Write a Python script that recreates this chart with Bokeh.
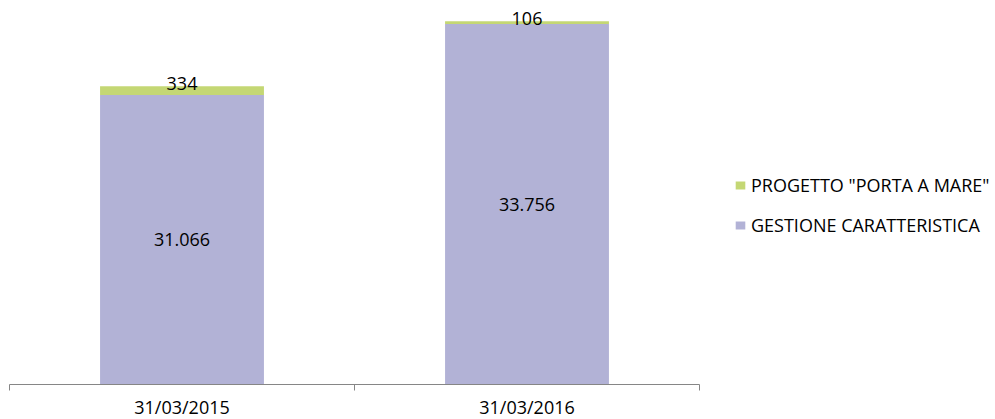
from bokeh.plotting import figure
from bokeh.models import (ColumnDataSource, Range1d, FixedTicker, Legend, LegendItem)
from bokeh.core.properties import value
from bokeh.embed import file_html
from bokeh.resources import INLINE

dates = ["31/03/2015", "31/03/2016"]
gestione = [31066, 33756]
progetto = [334, 106]

FONT = "Open Sans"
C_GEST = "#B2B2D6"
C_PROG = "#C4D774"

x = [i + 0.5 for i in range(len(dates))]
totals = [g + p for g, p in zip(gestione, progetto)]

def fmt(v):
    return f"{v:,}".replace(",", ".")

y_start, y_end = 20100, 34345

src = ColumnDataSource(dict(
    x=x, gestione=gestione, progetto=progetto, total=totals,
    gest_label=[fmt(v) for v in gestione],
    prog_label=[fmt(v) for v in progetto],
    gest_mid=[(max(y_start, 0) + g) / 2 for g in gestione],
))

p = figure(output_backend="svg", toolbar_location=None,
           width=987, height=419,
           frame_width=690, frame_height=376,
           x_range=Range1d(0, len(dates)), y_range=Range1d(y_start, y_end),
           min_border_left=9, min_border_top=8, min_border_right=288,
           min_border_bottom=35)
p.outline_line_color = None
p.grid.visible = False
p.yaxis.visible = False

r_g = p.vbar(x="x", bottom=0, top="gestione", width=0.475, source=src,
             fill_color=C_GEST, line_color=None)
r_p = p.vbar(x="x", bottom="gestione", top="total", width=0.475, source=src,
             fill_color=C_PROG, line_color=None)

p.text(x="x", y="gest_mid", text="gest_label", source=src,
       text_font=value(FONT), text_font_size="18px", text_color="black",
       text_align="center", text_baseline="middle")
p.text(x="x", y="total", text="prog_label", source=src,
       text_font=value(FONT), text_font_size="18px", text_color="black",
       text_align="center", text_baseline="middle", y_offset=-3)

ax = p.xaxis[0]
ax.ticker = FixedTicker(ticks=x, minor_ticks=[float(i) for i in range(len(dates) + 1)])
ax.major_label_overrides = {xi: d for xi, d in zip(x, dates)}
ax.major_tick_in = 0
ax.major_tick_out = 0
ax.minor_tick_in = 0
ax.minor_tick_out = 6
ax.minor_tick_line_color = "#868686"
ax.axis_line_color = "#868686"
ax.major_label_text_font = FONT
ax.major_label_text_font_size = "18px"
ax.major_label_text_color = "black"
ax.major_label_standoff = 4

legend = Legend(items=[
    LegendItem(label='PROGETTO "PORTA A MARE"', renderers=[r_p]),
    LegendItem(label="GESTIONE CARATTERISTICA", renderers=[r_g]),
], location=(35, 147))
legend.label_text_font = FONT
legend.label_text_font_size = "18px"
legend.label_text_color = "black"
legend.glyph_width = 12
legend.glyph_height = 10
legend.label_standoff = 5
legend.spacing = 16
legend.padding = 0
legend.margin = 0
legend.border_line_color = None
legend.background_fill_alpha = 0
p.add_layout(legend, "right")

open("out.html", "w").write(file_html(p, INLINE))
